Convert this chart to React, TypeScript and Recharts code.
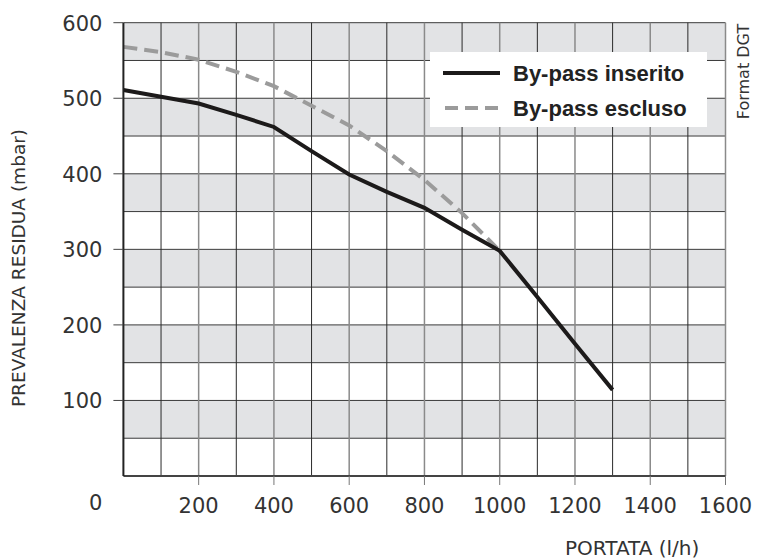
import { LineChart, Line, XAxis, YAxis, ReferenceArea, ReferenceLine, Legend } from 'recharts';

// Portata (l/h) and the two residual-head curves (mbar)
const flow = [0, 100, 200, 300, 400, 500, 600, 700, 800, 900, 1000, 1100, 1200, 1300];
const inserito = [511, 502, 493, 478, 462, 430, 399, 376, 355, 326, 298, 237, 175, 114];
const escluso = [568, 561, 551, 535, 516, 490, 464, 430, 392, 348, 298, null, null, null];

const xTicks = [200, 400, 600, 800, 1000, 1200, 1400, 1600];
const yTicks = [0, 100, 200, 300, 400, 500, 600];
const gridX = [100, 200, 300, 400, 500, 600, 700, 800, 900, 1000, 1100, 1200, 1300, 1400, 1500, 1600];
const gridY = [50, 100, 150, 200, 250, 300, 350, 400, 450, 500, 550, 600];
const grayBands = [[50, 100], [150, 200], [250, 300], [350, 400], [450, 500], [550, 600]];

const data = flow.map((f, i) => ({ flow: f, inserito: inserito[i], escluso: escluso[i] }));

const FONT = '"DejaVu Sans", sans-serif';
const TEXT = '#333';

function YTick({ x, y, payload }: any) {
  const zero = payload.value === 0;
  return (
    <g>
      {!zero && <line x1={x + 11} x2={x + 21} y1={y} y2={y} stroke="#444" strokeWidth={1} />}
      <text x={x} y={y} dy={zero ? 34 : 8} textAnchor="end" fontFamily={FONT} fontSize={21} fill={TEXT}>
        {payload.value}
      </text>
    </g>
  );
}

function XTick({ x, y, payload }: any) {
  return (
    <text x={x} y={y} dy={8} textAnchor="middle" fontFamily={FONT} fontSize={21} fill={TEXT}>
      {payload.value}
    </text>
  );
}

function LegendBox() {
  return (
    <svg width={277} height={75} style={{ display: 'block' }}>
      <rect x={0} y={0} width={277} height={75} fill="#fff" />
      <line x1={13} x2={70} y1={21} y2={21} stroke="#1c1a1a" strokeWidth={4} />
      <line x1={15} x2={68} y1={56} y2={56} stroke="#9b9b9b" strokeWidth={4} strokeDasharray="13 7" />
      <text x={83} y={29} fontFamily='"Liberation Sans", Arial, sans-serif' fontWeight="bold" fontSize={22} fill="#222">
        By-pass inserito
      </text>
      <text x={83} y={64} fontFamily='"Liberation Sans", Arial, sans-serif' fontWeight="bold" fontSize={22} fill="#222">
        By-pass escluso
      </text>
    </svg>
  );
}

export default function App() {
  return (
    <div style={{ position: 'absolute', left: 0, top: 0, width: 759, height: 560, background: '#fff' }}>
      <LineChart width={759} height={560} data={data} margin={{ top: 22.7, right: 33.5, bottom: 54, left: 63.4 }}>
        {grayBands.map(([a, b]) => (
          <ReferenceArea key={'b' + a} x1={0} x2={1600} y1={a} y2={b} fill="#e2e3e5" fillOpacity={1} stroke="none" />
        ))}
        {gridY.map((v) => (
          <ReferenceLine key={'h' + v} y={v} stroke="#3a3a3a" strokeWidth={1} />
        ))}
        {gridX.map((v) => (
          <ReferenceLine
            key={'v' + v}
            x={v}
            stroke={v % 200 === 0 ? '#8a8a8a' : '#2a2a2a'}
            strokeWidth={v % 200 === 0 ? 1.5 : 1}
          />
        ))}
        <XAxis
          dataKey="flow"
          type="number"
          domain={[0, 1600]}
          ticks={xTicks}
          height={30}
          tickSize={9}
          tickMargin={20}
          tick={<XTick />}
          tickLine={{ stroke: '#777', strokeWidth: 1 }}
          axisLine={{ stroke: '#444', strokeWidth: 2 }}
          label={{
            content: () => (
              <g>
                <text x={565} y={555} fontFamily={FONT} fontSize={20} fill={TEXT}>
                  PORTATA (l/h)
                </text>
                <text x={749} y={71.5} transform="rotate(-90 749 71.5)" textAnchor="middle" fontFamily={FONT} fontSize={16} fill={TEXT}>
                  Format DGT
                </text>
              </g>
            ),
          }}
        />
        <YAxis
          type="number"
          domain={[0, 600]}
          ticks={yTicks}
          width={60}
          tickSize={10}
          tickMargin={11}
          tickLine={false}
          tick={<YTick />}
          axisLine={{ stroke: '#222', strokeWidth: 2 }}
          label={{
            content: () => (
              <text x={25} y={268} transform="rotate(-90 25 268)" textAnchor="middle" fontFamily={FONT} fontSize={18.5} fill={TEXT}>
                PREVALENZA RESIDUA (mbar)
              </text>
            ),
          }}
        />
        <Line dataKey="escluso" type="linear" stroke="#9b9b9b" strokeWidth={4} strokeDasharray="14 7" dot={false} activeDot={false} isAnimationActive={false} />
        <Line dataKey="inserito" type="linear" stroke="#1c1a1a" strokeWidth={4} dot={false} activeDot={false} isAnimationActive={false} />
        <Legend
          layout="vertical"
          align="center"
          verticalAlign="middle"
          wrapperStyle={{ left: 430, top: 52, width: 277, height: 75 }}
          content={() => <LegendBox />}
        />
      </LineChart>
    </div>
  );
}
